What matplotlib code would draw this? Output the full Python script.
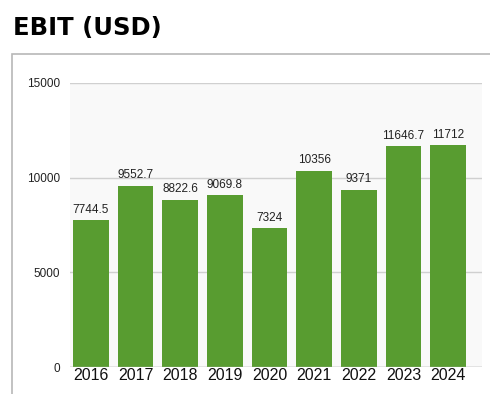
import matplotlib
matplotlib.use('Agg')
from matplotlib import pyplot as plt
from matplotlib.patches import Rectangle

years = ['2016', '2017', '2018', '2019', '2020', '2021', '2022', '2023', '2024']
ebit = [7744.5, 9552.7, 8822.6, 9069.8, 7324, 10356, 9371, 11646.7, 11712]
value_labels = ['7744.5', '9552.7', '8822.6', '9069.8', '7324', '10356', '9371', '11646.7', '11712']
y_ticks = [0, 5000, 10000, 15000]

W, H = 490, 394
fig = plt.figure(figsize=(W / 100, H / 100), dpi=100)
fig.patch.set_facecolor('white')

fig.text(13 / W, 1 - 28 / H, 'EBIT (USD)', fontsize=17.5, fontweight='bold',
         family='DejaVu Sans', va='center', ha='left')

# outer panel border
fig.patches.append(Rectangle((12 / W, -0.05), 1.0, 1 - 54 / H + 0.05,
                             transform=fig.transFigure, fill=False,
                             edgecolor='#b8b8b8', linewidth=1.2))

ax = fig.add_axes([70 / W, 1 - 367 / H, 412 / W, (367 - 83) / H])
ax.set_facecolor('#f9f9f9')
x = range(len(years))
ax.bar(x, ebit, width=0.8, color='#589c30', zorder=3)
for xi, v, lab in zip(x, ebit, value_labels):
    ax.text(xi, v + 250, lab, ha='center', va='bottom', fontsize=8.5,
            family='Liberation Sans', color='#222222', zorder=4)

ax.set_xlim(-0.47, 8.76)
ax.set_ylim(0, 15000)
ax.set_yticks(y_ticks)
ax.set_yticklabels([str(t) for t in y_ticks], fontsize=8.5,
                   family='Liberation Sans', color='#222222')
ax.set_xticks(list(x))
ax.set_xticklabels(years, fontsize=11.5, family='Liberation Sans', color='#111111')
ax.tick_params(length=0, pad=1)
ax.tick_params(axis='y', pad=7)
ax.grid(axis='y', color='#d0d0d0', linewidth=1, zorder=0)
for s in ax.spines.values():
    s.set_visible(False)
ax.axhline(0, color='#b0b0b0', linewidth=1, zorder=4)

fig.savefig('out.png', dpi=100)
